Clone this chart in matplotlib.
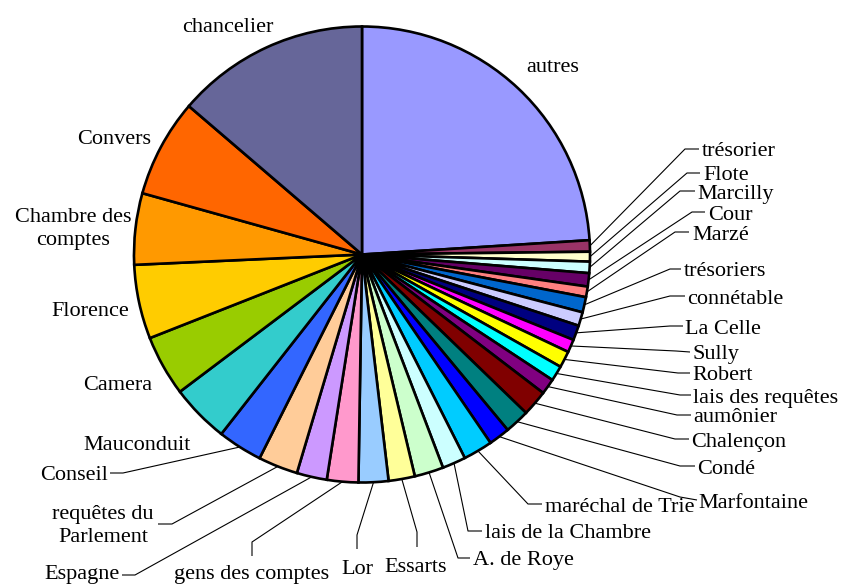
import matplotlib
matplotlib.use("Agg")
import matplotlib.pyplot as plt
import numpy as np

# ---- data (slice shares, in degrees of the full circle) ----
categories = ["autres", "trésorier", "Flote", "Marcilly", "Cour", "Marzé",
              "trésoriers", "connétable", "La Celle", "Sully", "Robert",
              "lais des requêtes", "aumônier", "Chalençon", "Condé", "Marfontaine",
              "maréchal de Trie", "lais de la Chambre", "A. de Roye", "Essarts",
              "Lor", "gens des comptes", "Espagne", "requêtes du\nParlement",
              "Conseil", "Mauconduit", "Camera", "Florence", "Chambre des\ncomptes",
              "Convers", "chancelier"]
values = [86.4, 2.9, 2.5, 2.9, 3.4, 2.7,
          3.9, 3.5, 3.8, 3.3, 4.2,
          3.9, 4.0, 6.6, 6.3, 5.4,
          7.5, 6.0, 7.4, 6.7,
          7.6, 8.0, 7.7, 10.1,
          11.4, 14.9, 15.5, 18.9, 18.2,
          25.0, 49.4]
colors = ["#9999FF", "#993366", "#FFFFCC", "#CCFFFF", "#660066", "#FF8080",
          "#0066CC", "#CCCCFF", "#000080", "#FF00FF", "#FFFF00",
          "#00FFFF", "#800080", "#800000", "#008080", "#0000FF",
          "#00CCFF", "#CCFFFF", "#CCFFCC", "#FFFF99",
          "#99CCFF", "#FF99CC", "#CC99FF", "#FFCC99",
          "#3366FF", "#33CCCC", "#99CC00", "#FFCC00", "#FF9900",
          "#FF6600", "#666699"]

# ---- layout (pixel coords, y downward): text pos, ha, optional leader elbow & end ----
layout = {
    "autres": (553, 64, "center", None, None),
    "chancelier": (228, 24, "center", None, None),
    "Convers": (114, 136, "center", None, None),
    "Chambre des\ncomptes": (73, 226, "center", None, None),
    "Florence": (90, 309, "center", None, None),
    "Camera": (118, 383, "center", None, None),
    "Mauconduit": (137, 443, "center", None, None),
    "Conseil": (108, 473, "right", (123, 473), (110, 473)),
    "requêtes du\nParlement": (103, 523, "center", (172, 524), (158, 524)),
    "Espagne": (120, 572, "right", (135, 575), (122, 575)),
    "gens des comptes": (252, 571, "center", (252, 542), (252, 556)),
    "Lor": (357, 566, "center", (357, 535), (357, 549)),
    "Essarts": (416, 565, "center", (417, 532), (417, 547)),
    "A. de Roye": (473, 558, "left", (458, 558), (470, 558)),
    "lais de la Chambre": (485, 531, "left", (468, 531), (482, 531)),
    "maréchal de Trie": (545, 504, "left", (528, 504), (542, 504)),
    "Marfontaine": (698, 500, "left", (680, 497), (697, 500)),
    "Condé": (697, 466, "left", (680, 466), (695, 466)),
    "Chalençon": (691, 439, "left", (675, 439), (689, 439)),
    "aumônier": (693, 415, "left", (677, 415), (691, 415)),
    "lais des requêtes": (693, 395, "left", (680, 395), (691, 395)),
    "Robert": (692, 373, "left", (678, 373), (690, 373)),
    "Sully": (693, 352, "left", (676, 351), (690, 352)),
    "La Celle": (685, 326, "left", (670, 326), (683, 326)),
    "connétable": (687, 296, "left", (670, 296), (685, 296)),
    "trésoriers": (684, 269, "left", (670, 269), (681, 269)),
    "Marzé": (692, 232, "left", (675, 232), (689, 232)),
    "Cour": (708, 212, "left", (692, 212), (705, 212)),
    "Marcilly": (697, 191, "left", (680, 191), (695, 191)),
    "Flote": (703, 173, "left", (687, 173), (700, 173)),
    "trésorier": (702, 149, "left", (685, 149), (699, 149)),
}
TEXT_DY = 3  # visual centre correction for text

W, H = 842, 588
fig = plt.figure(figsize=(W / 100, H / 100), dpi=100)
ax = fig.add_axes([0, 0, 1, 1])
cx, cy, R = 362, H - 254.5, 228

wedges, _ = ax.pie(values, colors=colors, startangle=90, counterclock=False,
                   center=(cx, cy), radius=R, frame=True,
                   wedgeprops=dict(edgecolor="black", linewidth=1.9))
ax.set_xlim(0, W)
ax.set_ylim(0, H)
ax.set_aspect("equal")
ax.axis("off")

font = dict(family="Liberation Serif", fontsize=16, color="black")
for w, name in zip(wedges, categories):
    tx, ty, ha, elbow, end = layout[name]
    ax.text(tx, H - ty - TEXT_DY, name, ha=ha, va="center", multialignment="center",
            linespacing=1.3, **font)
    if elbow is not None:
        mid = np.deg2rad((w.theta1 + w.theta2) / 2)
        px, py = cx + R * np.cos(mid), cy + R * np.sin(mid)
        ax.plot([px, elbow[0], end[0]], [py, H - elbow[1], H - end[1]],
                color="black", lw=0.8, solid_capstyle="butt")

fig.savefig("out.png", dpi=100, facecolor="white")
